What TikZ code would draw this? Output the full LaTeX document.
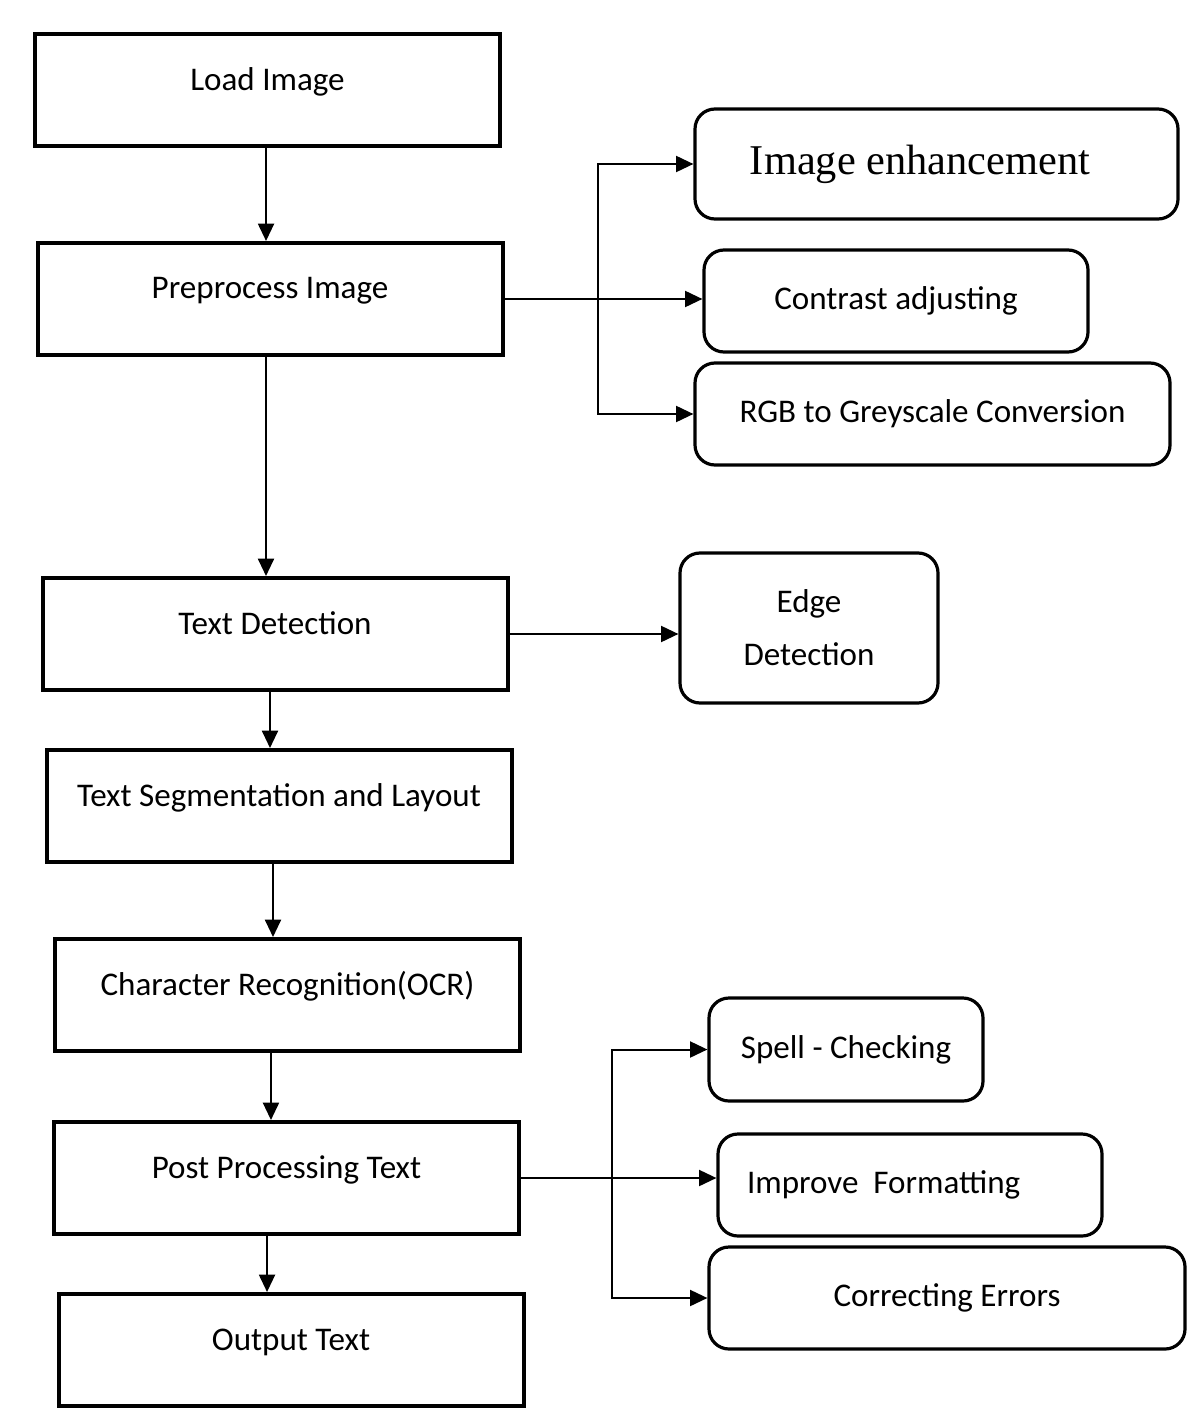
\documentclass[tikz,border=0pt]{standalone}
\usepackage{fontspec}
\setmainfont{Carlito}
\newfontfamily\timesfont{Liberation Serif}
\usetikzlibrary{arrows.meta}

\tikzset{
	etape/.style = {draw, line width=3pt, minimum width=348.75pt, minimum height=84pt, inner sep=0pt,
		text height=12pt, text depth=12pt, font=\fontsize{24.8}{30}\selectfont},
	option/.style = {draw, line width=2.4pt, rounded corners=15pt, inner sep=0pt, align=center,
		font=\fontsize{24.8}{39.75}\selectfont},
	fleche/.style = {line width=1.5pt, -{Triangle[length=13pt,width=12pt]}}
}

\begin{document}
\begin{tikzpicture}[x=0.75pt, y=-0.75pt]
		\useasboundingbox (0,0) rectangle (1196,1426);

		% etapes principales
		\node[etape] (load) at (267.5,90.5) {Load Image};
		\node[etape] (prep) at (270,299) {Preprocess Image};
		\node[etape] (tdet) at (275,634) {Text Detection};
		\node[etape] (seg) at (279,806) {Text Segmentation and Layout};
		\node[etape] (ocr) at (287.5,995) {Character Recognition(OCR)};
		\node[etape] (post) at (286.5,1178) {Post Processing Text};
		\node[etape] (out) at (291,1350) {Output Text};

		% options
		\node[option, minimum width=362.25pt, minimum height=82.5pt, align=none,
			font=\timesfont\fontsize{31.8}{36}\selectfont] (enh) at (936.5,164) {Image enhancement\kern24.75pt};
		\node[option, minimum width=288pt, minimum height=76.5pt] (con) at (896,301) {Contrast adjusting};
		\node[option, minimum width=356.25pt, minimum height=76.5pt] (rgb) at (932.5,414) {RGB to Greyscale Conversion};
		\node[option, minimum width=193.5pt, minimum height=112.5pt] (edge) at (809,628) {Edge\\Detection};
		\node[option, minimum width=205.5pt, minimum height=77.25pt] (spell) at (846,1049.5) {Spell - Checking};
		\node[option, minimum width=288pt, minimum height=76.5pt, inner xsep=21.75pt, text width=244.5pt, align=left]
			(fmt) at (910,1185) {Improve\hspace{0.45em}Formatting};
		\node[option, minimum width=357pt, minimum height=76.5pt] (err) at (947,1298) {Correcting Errors};

		\coordinate (b1) at (598,0);
		\coordinate (b2) at (612,0);

		% fleches
		\foreach \a/\b/\d in {load/prep/-1.1, prep/tdet/-3, tdet/seg/-3.75, seg/ocr/-4.5, ocr/post/-12.4, post/out/-14.6}
			\draw[fleche] ([xshift=\d pt]\a.south) coordinate (haut) -- (haut |- \b.north);

		\draw[fleche] (prep.east) -- (prep.east -| con.west);
		\draw[fleche] (prep.east -| b1) |- (enh.west);
		\draw[fleche] (prep.east -| b1) |- (rgb.west);

		\draw[fleche] (tdet.east) -- (tdet.east -| edge.west);

		\draw[fleche] (post.east) -- (post.east -| fmt.west);
		\draw[fleche] (post.east -| b2) |- (spell.west);
		\draw[fleche] (post.east -| b2) |- (err.west);
	\end{tikzpicture}
\end{document}
